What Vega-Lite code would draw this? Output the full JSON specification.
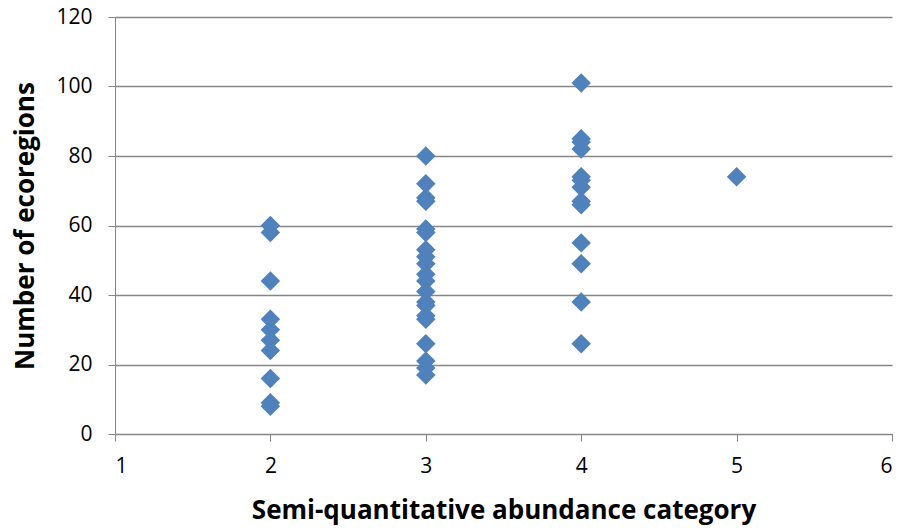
{
  "$schema": "https://vega.github.io/schema/vega-lite/v6.json",
  "autosize": "none",
  "width": 777,
  "height": 417,
  "padding": {"left": 115, "top": 17, "right": 6, "bottom": 95},
  "background": "white",
  "config": {"view": {"stroke": null}, "font": "Open Sans"},
  "data": {"values": [
    {"category": 2, "ecoregions": 60}, {"category": 2, "ecoregions": 58}, {"category": 2, "ecoregions": 44},
    {"category": 2, "ecoregions": 33}, {"category": 2, "ecoregions": 30}, {"category": 2, "ecoregions": 27},
    {"category": 2, "ecoregions": 24}, {"category": 2, "ecoregions": 16}, {"category": 2, "ecoregions": 9},
    {"category": 2, "ecoregions": 8},
    {"category": 3, "ecoregions": 80}, {"category": 3, "ecoregions": 72}, {"category": 3, "ecoregions": 68},
    {"category": 3, "ecoregions": 67}, {"category": 3, "ecoregions": 59}, {"category": 3, "ecoregions": 58},
    {"category": 3, "ecoregions": 53}, {"category": 3, "ecoregions": 51}, {"category": 3, "ecoregions": 49},
    {"category": 3, "ecoregions": 46}, {"category": 3, "ecoregions": 44}, {"category": 3, "ecoregions": 41},
    {"category": 3, "ecoregions": 38}, {"category": 3, "ecoregions": 37}, {"category": 3, "ecoregions": 34},
    {"category": 3, "ecoregions": 33}, {"category": 3, "ecoregions": 26}, {"category": 3, "ecoregions": 21},
    {"category": 3, "ecoregions": 19}, {"category": 3, "ecoregions": 17},
    {"category": 4, "ecoregions": 101}, {"category": 4, "ecoregions": 85}, {"category": 4, "ecoregions": 84},
    {"category": 4, "ecoregions": 82}, {"category": 4, "ecoregions": 74}, {"category": 4, "ecoregions": 73},
    {"category": 4, "ecoregions": 71}, {"category": 4, "ecoregions": 67}, {"category": 4, "ecoregions": 66},
    {"category": 4, "ecoregions": 55}, {"category": 4, "ecoregions": 49}, {"category": 4, "ecoregions": 38},
    {"category": 4, "ecoregions": 26},
    {"category": 5, "ecoregions": 74}
  ]},
  "mark": {"type": "point", "shape": "diamond", "filled": true, "size": 380, "color": "#4F81BD", "opacity": 1},
  "encoding": {
    "x": {
      "field": "category", "type": "quantitative",
      "scale": {"domain": [1, 6], "nice": false, "zero": false},
      "axis": {
        "title": "Semi-quantitative abundance category",
        "titleFont": "Open Sans", "titleFontSize": 26, "titleFontWeight": "bold", "titleColor": "black",
        "titlePadding": 21,
        "values": [1, 2, 3, 4, 5, 6],
        "labelFontSize": 21, "labelColor": "black", "labelPadding": 14,
        "domainColor": "#868686", "tickColor": "#868686", "tickSize": 7, "grid": false
      }
    },
    "y": {
      "field": "ecoregions", "type": "quantitative",
      "scale": {"domain": [0, 120], "nice": false},
      "axis": {
        "title": "Number of ecoregions",
        "titleFont": "Open Sans", "titleFontSize": 26, "titleFontWeight": "bold", "titleColor": "black",
        "titlePadding": 17,
        "values": [0, 20, 40, 60, 80, 100, 120],
        "labelFontSize": 21, "labelColor": "black", "labelPadding": 16,
        "domainColor": "#868686", "tickColor": "#868686", "tickSize": 7,
        "grid": true, "gridColor": "#868686", "gridWidth": 1.3
      }
    }
  }
}
